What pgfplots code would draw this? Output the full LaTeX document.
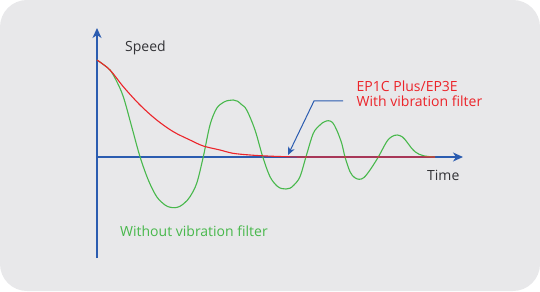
\documentclass[border=0pt]{standalone}
\usepackage{pgfplots}
\pgfplotsset{compat=1.18}
\usetikzlibrary{arrows.meta}
\usepackage{fontspec}
\setmainfont{Open Sans}
\definecolor{bg}{RGB}{232,232,234}
\definecolor{axblue}{RGB}{43,92,176}
\definecolor{cred}{RGB}{236,36,42}
\definecolor{cgreen}{RGB}{72,184,76}
\definecolor{txt}{RGB}{51,51,55}
\begin{document}
\begin{tikzpicture}
\begin{axis}[width=540bp,height=291bp,scale only axis,
  xmin=-97,xmax=443,ymin=-134,ymax=157,hide axis,clip=false]
\fill[bg, rounded corners=27bp] (axis cs:-97,-134) rectangle (axis cs:443,157);
% axes
\draw[axblue, line width=1.3bp, -{Stealth[length=10bp,width=9bp,inset=3bp]}] (axis cs:0,-101) -- (axis cs:0,129);
\draw[axblue, line width=1.3bp, -{Stealth[length=10bp,width=9bp,inset=3bp]}] (axis cs:0,0) -- (axis cs:366,0);
% green: without filter
\addplot[cgreen, line width=1.1bp, smooth, tension=0.55] coordinates {
(0,97) (7,92) (13,87) (19,77) (26.3,60.3) (34.7,30.3) (43,0.3) (51.3,-23) (59.7,-39.7)
(68,-48) (73,-50.2) (78,-50.7) (83,-49.3) (88,-45.5) (93,-39.7) (99.7,-26.3) (106.3,0.3) (113,32)
(119.7,48.7) (127,55) (132,56.6) (136.3,57) (140.5,55.8) (144.5,52.5) (149.7,47) (158,27) (165.7,0.3)
(173,-19.7) (180,-29) (185,-31.6) (189,-32) (193,-31.2) (197,-28) (203,-19.7) (209,0.3) (216.3,23.7)
(223,32) (227,35) (231.3,36.3) (235.5,34.5) (239.7,27) (244.7,13.7) (248,0) (253,-14.7) (257.5,-20.5)
(262.3,-22.3) (267,-20.5) (273,-13) (281.3,0) (289.7,15.3) (295,20.5) (300.3,22)
(305.5,20) (309.7,15.3) (314,9.5) (318,5.3) (322,2.8) (326.3,1.3) (332,0.4) (338,0)};
% red: with filter
\addplot[cred, line width=1.1bp, smooth, tension=0.55] coordinates {
(0,97) (13,87) (26.3,70.3) (43,52) (59.7,37) (76.3,25.3) (93,17) (106.3,11)
(123,7) (136,3.7) (153,2) (169.7,1) (189.7,0.3) (213,0) (338,0)};
% annotation arrow
\draw[axblue, line width=1bp, -{Stealth[length=8bp,width=7bp,inset=2.5bp]}] (axis cs:246,56) -- (axis cs:217,56) -- (axis cs:191,2);
% labels
\node[anchor=base west, inner sep=0pt, text=txt, font=\fontsize{14bp}{16bp}\selectfont] at (axis cs:28,105) {Speed};
\node[anchor=base west, inner sep=0pt, text=txt, font=\fontsize{14bp}{16bp}\selectfont] at (axis cs:330,-23) {Time};
\node[anchor=base west, inner sep=0pt, text=cred, font=\fontsize{14bp}{16bp}\selectfont] at (axis cs:259.5,65) {EP1C Plus/EP3E};
\node[anchor=base west, inner sep=0pt, text=cred, font=\fontsize{14bp}{16bp}\selectfont] at (axis cs:259.5,50) {With vibration filter};
\node[anchor=base west, inner sep=0pt, text=cgreen, font=\fontsize{14bp}{16bp}\selectfont] at (axis cs:23,-79) {Without vibration filter};
\end{axis}
\end{tikzpicture}
\end{document}
